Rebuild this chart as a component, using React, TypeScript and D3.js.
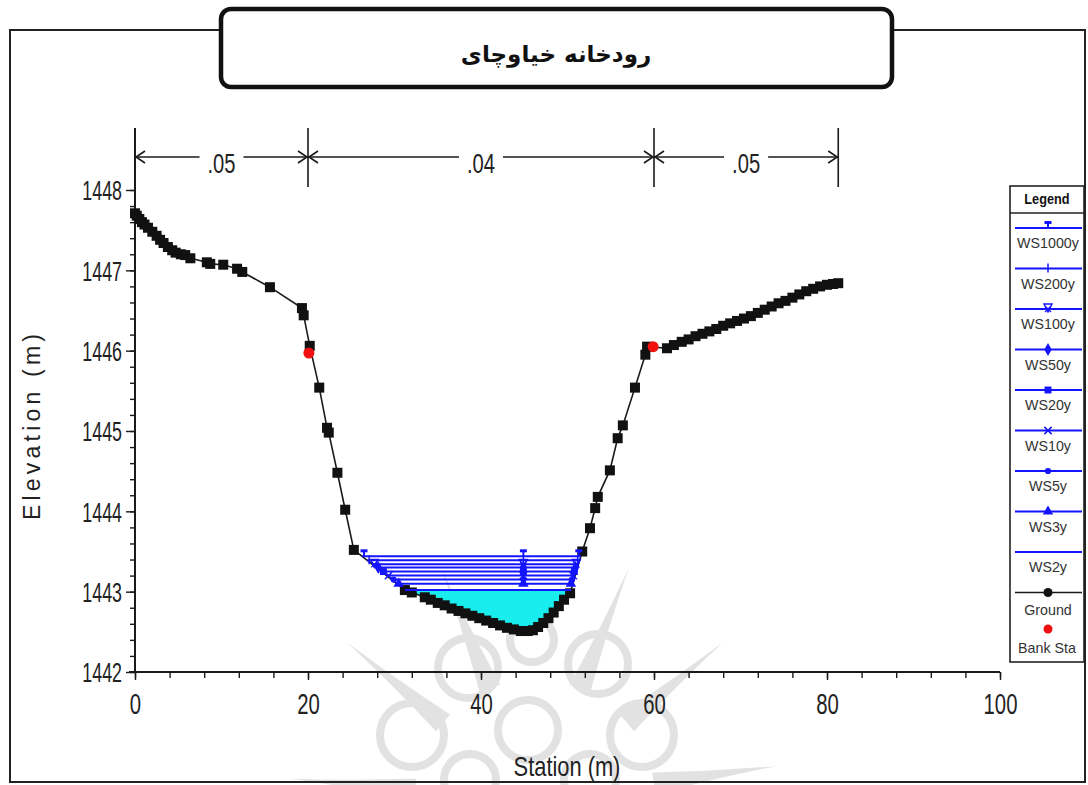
import React, { useRef, useEffect } from "react";
import * as d3 from "d3";

// ground section (station m, elevation m)
const groundStation = [
  0, 0.2, 0.5, 0.8, 1.1, 1.5, 2.0, 2.5, 2.9, 3.3, 3.8, 4.3, 4.7, 5.3, 5.8, 6.4, 8.3, 8.7,
  10.2, 11.8, 12.4, 15.6, 19.3, 19.5, 20.2, 21.3, 22.2, 22.4, 23.4, 24.3, 25.3, 31.2, 32.0,
  33.5, 34.2, 35.0, 35.8, 36.6, 37.4, 38.2, 39.0, 39.8, 40.6, 41.4, 42.2, 43.0, 43.8, 44.6,
  45.4, 46.0, 46.6, 47.2, 47.8, 48.4, 49.0, 49.6, 50.3, 51.7, 52.6, 53.2, 53.5, 54.9, 55.8,
  56.4, 57.8, 59.0, 59.2, 61.5, 62.3, 63.2, 64.0, 64.8, 65.6, 66.4, 67.2, 68.0, 68.8, 69.6,
  70.4, 71.2, 72.0, 72.8, 73.6, 74.4, 75.2, 76.0, 76.8, 77.6, 78.4, 79.2, 80.0, 80.7, 81.3,
];
const groundElevation = [
  1447.71, 1447.68, 1447.64, 1447.6, 1447.57, 1447.53, 1447.48, 1447.43, 1447.38, 1447.34,
  1447.29, 1447.25, 1447.22, 1447.2, 1447.19, 1447.15, 1447.1, 1447.08, 1447.07, 1447.02,
  1446.98, 1446.79, 1446.53, 1446.44, 1446.06, 1445.54, 1445.04, 1444.98, 1444.48, 1444.02,
  1443.52, 1443.02, 1442.99, 1442.93, 1442.9, 1442.86, 1442.83, 1442.79, 1442.76, 1442.73,
  1442.7, 1442.67, 1442.64, 1442.61, 1442.58, 1442.55, 1442.53, 1442.51, 1442.51, 1442.52,
  1442.56, 1442.61, 1442.67, 1442.74, 1442.82, 1442.9, 1442.98, 1443.5, 1443.79, 1444.04,
  1444.18, 1444.51, 1444.91, 1445.07, 1445.54, 1445.95, 1446.05, 1446.03, 1446.07, 1446.11,
  1446.14, 1446.18, 1446.21, 1446.24, 1446.27, 1446.31, 1446.34, 1446.37, 1446.4, 1446.43,
  1446.47, 1446.51, 1446.55, 1446.59, 1446.62, 1446.66, 1446.7, 1446.74, 1446.77, 1446.8,
  1446.82, 1446.83, 1446.84,
];

const bankStation = [20.1, 59.9];
const bankElevation = [1445.97, 1446.05];

const profileNames = ["WS1000y", "WS200y", "WS100y", "WS50y", "WS20y", "WS10y", "WS5y", "WS3y", "WS2y"];
const profileElevation = [1443.44, 1443.39, 1443.34, 1443.3, 1443.25, 1443.2, 1443.15, 1443.1, 1443.02];
const profileSymbols = ["tee", "plus", "triDownX", "diamond", "square", "cross", "circle", "triangle", "none"];
const wsSymbolStation = 44.9;

const nValueLabels = [".05", ".04", ".05"];
const nValueBreaks = [0, 20, 60, 81.3];

const xTicks = [0, 20, 40, 60, 80, 100];
const yTicks = [1442, 1443, 1444, 1445, 1446, 1447, 1448];

const titleText = "رودخانه خیاوچای";
const xTitle = "Station (m)";
const yTitle = "Elevation (m)";

const BLUE = "#1414ff";
const CYAN = "#19ecec";
const INK = "#1a1a1a";

const drawSymbol = (g, type, cx, cy, color) => {
  if (type === "tee") {
    g.append("rect").attr("x", cx - 3.5).attr("y", cy - 7).attr("width", 7).attr("height", 3).attr("fill", color);
    g.append("line").attr("x1", cx).attr("x2", cx).attr("y1", cy - 6).attr("y2", cy).attr("stroke", color).attr("stroke-width", 2);
  } else if (type === "plus") {
    g.append("line").attr("x1", cx).attr("x2", cx).attr("y1", cy - 5).attr("y2", cy + 4).attr("stroke", color).attr("stroke-width", 1.5);
  } else if (type === "triDownX") {
    g.append("path").attr("d", `M${cx - 4},${cy - 5}L${cx + 4},${cy - 5}L${cx},${cy + 3}Z`)
      .attr("fill", "none").attr("stroke", color).attr("stroke-width", 1.4);
    g.append("path").attr("d", `M${cx - 3},${cy - 3}L${cx + 3},${cy + 3}M${cx + 3},${cy - 3}L${cx - 3},${cy + 3}`)
      .attr("stroke", color).attr("stroke-width", 1.2);
  } else if (type === "cross") {
    g.append("path").attr("transform", `translate(${cx},${cy})`)
      .attr("d", d3.symbol(d3.symbolX, 36)()).attr("fill", "none").attr("stroke", color).attr("stroke-width", 1.5);
  } else if (type !== "none") {
    const sym = { diamond: d3.symbolDiamond, square: d3.symbolSquare, circle: d3.symbolCircle, triangle: d3.symbolTriangle }[type];
    const size = type === "circle" ? 30 : 48;
    g.append("path").attr("transform", `translate(${cx},${cy})`).attr("d", d3.symbol(sym, size)()).attr("fill", color);
  }
};

// squeeze text horizontally like the narrow plot font of the original
const squeeze = (sel, factor) =>
  sel.each(function () {
    const w = this.getComputedTextLength();
    d3.select(this).attr("textLength", w * factor).attr("lengthAdjust", "spacingAndGlyphs");
  });

const App = () => {
  const ref = useRef(null);

  useEffect(() => {
    const svg = d3.select(ref.current);
    svg.selectAll("*").remove();

    const width = 1088;
    const height = 785;
    const font = "'Liberation Sans', Arial, sans-serif";

    svg.attr("width", width).attr("height", height);
    svg.append("rect").attr("width", width).attr("height", height).attr("fill", "#fff");

    const x = d3.scaleLinear().domain([0, 100]).range([135, 1000]);
    const y = d3.scaleLinear().domain([1442, 1448]).range([672, 190]);

    // faint watermark rosette behind the plot
    const wmColor = "#e2e2e2";
    const wm = svg.append("g").attr("fill", "none").attr("stroke", wmColor).attr("stroke-width", 8);
    const wc = [535, 800];
    [-175, -140, -112, -68, -40, -8].forEach((a) => {
      const r = (a * Math.PI) / 180;
      const len = a === -112 || a === -68 ? 250 : 245;
      const tx = wc[0] + Math.cos(r) * len;
      const ty = wc[1] + Math.sin(r) * len;
      const nx = -Math.sin(r) * 11;
      const ny = Math.cos(r) * 11;
      const bx = wc[0] + Math.cos(r) * 120;
      const by = wc[1] + Math.sin(r) * 120;
      wm.append("path").attr("d", `M${bx + nx},${by + ny}Q${(bx + tx) / 2 + nx * 0.3},${(by + ty) / 2 + ny * 0.3} ${tx},${ty}Q${(bx + tx) / 2 - nx * 0.3},${(by + ty) / 2 - ny * 0.3} ${bx - nx},${by - ny}Z`)
        .attr("fill", wmColor).attr("stroke", "none");
    });
    [[468, 668, 30], [598, 664, 30], [412, 735, 32], [642, 735, 32], [532, 640, 22], [528, 730, 30], [470, 780, 26], [590, 780, 26]].forEach(([cx, cy, r]) => {
      wm.append("circle").attr("cx", cx).attr("cy", cy).attr("r", r);
    });

    // outer frame
    svg.append("rect").attr("x", 10).attr("y", 30).attr("width", 1075).attr("height", 752)
      .attr("fill", "none").attr("stroke", "#222").attr("stroke-width", 2);

    // title box
    svg.append("rect").attr("x", 221).attr("y", 9).attr("width", 671).attr("height", 78).attr("rx", 10)
      .attr("fill", "#fff").attr("stroke", "#111").attr("stroke-width", 4.5);
    svg.append("text").attr("x", 556).attr("y", 62).attr("text-anchor", "middle")
      .attr("font-family", "'DejaVu Sans', sans-serif").attr("font-weight", "bold").attr("font-size", 23)
      .attr("direction", "rtl").attr("fill", "#111").text(titleText);

    // n-value dimension line
    const dimY = 157;
    const dim = svg.append("g").attr("stroke", INK).attr("stroke-width", 1.6).attr("fill", "none");
    nValueBreaks.forEach((b) => {
      dim.append("line").attr("x1", x(b)).attr("x2", x(b)).attr("y1", 128).attr("y2", 187);
    });
    nValueLabels.forEach((lab, k) => {
      const x0 = x(nValueBreaks[k]);
      const x1 = x(nValueBreaks[k + 1]);
      const mid = (x0 + x1) / 2;
      dim.append("line").attr("x1", x0).attr("x2", mid - 22).attr("y1", dimY).attr("y2", dimY);
      dim.append("line").attr("x1", mid + 22).attr("x2", x1).attr("y1", dimY).attr("y2", dimY);
      dim.append("path").attr("d", `M${x0 + 10},${dimY - 6}L${x0 + 1},${dimY}L${x0 + 10},${dimY + 6}`);
      dim.append("path").attr("d", `M${x1 - 10},${dimY - 6}L${x1 - 1},${dimY}L${x1 - 10},${dimY + 6}`);
      svg.append("text").attr("x", mid).attr("y", dimY + 16).attr("text-anchor", "middle")
        .attr("font-family", font).attr("font-size", 28).attr("fill", "#222").text(lab)
        .call(squeeze, 0.72);
    });

    // y axis
    svg.append("line").attr("x1", x(0)).attr("x2", x(0)).attr("y1", 128).attr("y2", y(1442))
      .attr("stroke", INK).attr("stroke-width", 2);
    const yMinor = svg.append("g").attr("transform", `translate(${x(0)},0)`)
      .call(d3.axisLeft(y).tickValues(d3.range(1442, 1448.001, 0.2)).tickSize(5).tickFormat(() => ""));
    yMinor.select(".domain").remove();
    yMinor.selectAll("line").attr("stroke", INK).attr("stroke-width", 1.4);
    const yMajor = svg.append("g").attr("transform", `translate(${x(0)},0)`)
      .call(d3.axisLeft(y).tickValues(yTicks).tickSize(9).tickPadding(4).tickFormat(d3.format("d")));
    yMajor.select(".domain").remove();
    yMajor.selectAll("line").attr("stroke", INK).attr("stroke-width", 1.4);
    yMajor.selectAll("text").attr("font-family", font).attr("font-size", 27).attr("fill", "#222")
      .attr("dy", "0.36em").call(squeeze, 0.66);

    // x axis
    svg.append("line").attr("x1", x(0) - 6).attr("x2", x(100)).attr("y1", y(1442)).attr("y2", y(1442))
      .attr("stroke", INK).attr("stroke-width", 2);
    const xMinor = svg.append("g").attr("transform", `translate(0,${y(1442)})`)
      .call(d3.axisBottom(x).tickValues(d3.range(0, 100.001, 4)).tickSize(6).tickFormat(() => ""));
    xMinor.select(".domain").remove();
    xMinor.selectAll("line").attr("stroke", INK).attr("stroke-width", 1.4);
    const xMajor = svg.append("g").attr("transform", `translate(0,${y(1442)})`)
      .call(d3.axisBottom(x).tickValues(xTicks).tickSize(8).tickPadding(13).tickFormat(d3.format("d")));
    xMajor.select(".domain").remove();
    xMajor.selectAll("line").attr("stroke", INK).attr("stroke-width", 1.4);
    xMajor.selectAll("text").attr("font-family", font).attr("font-size", 29).attr("fill", "#222")
      .call(squeeze, 0.7);

    // axis titles
    svg.append("text").attr("transform", `translate(40,${427}) rotate(-90)`).attr("text-anchor", "middle")
      .attr("font-family", font).attr("font-size", 23).attr("fill", "#222")
      .attr("textLength", 186).attr("lengthAdjust", "spacing").text(yTitle);
    svg.append("text").attr("x", 567).attr("y", 776).attr("text-anchor", "middle")
      .attr("font-family", font).attr("font-size", 28).attr("fill", "#222").text(xTitle)
      .call(squeeze, 0.78);

    // water surfaces
    const ground = groundStation.map((s, i) => ({ s, e: groundElevation[i] }));
    const lowest = d3.minIndex(ground, (d) => d.e);
    const crossing = (level) => {
      let i = lowest;
      while (i > 0 && ground[i - 1].e < level) i--;
      const a = ground[i - 1];
      const b = ground[i];
      const left = a.s + ((level - a.e) / (b.e - a.e)) * (b.s - a.s);
      let j = lowest;
      while (j < ground.length - 1 && ground[j + 1].e < level) j++;
      const c = ground[j];
      const d = ground[j + 1];
      const right = c.s + ((level - c.e) / (d.e - c.e)) * (d.s - c.s);
      return { left, right, i, j };
    };

    const lowLevel = profileElevation[profileElevation.length - 1];
    const lowCross = crossing(lowLevel);
    const fillPts = [[lowCross.left, lowLevel], ...ground.slice(lowCross.i, lowCross.j + 1).map((p) => [p.s, p.e]), [lowCross.right, lowLevel]];
    svg.append("path")
      .attr("d", d3.line().x((p) => x(p[0])).y((p) => y(p[1]))(fillPts) + "Z")
      .attr("fill", CYAN);

    // ground line and points
    const groundLine = d3.line().x((d) => x(d.s)).y((d) => y(d.e));
    svg.append("path").attr("d", groundLine(ground)).attr("fill", "none").attr("stroke", INK).attr("stroke-width", 1.6);
    svg.append("g").selectAll("rect").data(ground).enter().append("rect")
      .attr("x", (d) => x(d.s) - 5).attr("y", (d) => y(d.e) - 5)
      .attr("width", 10).attr("height", 10).attr("fill", "#111");

    const ws = svg.append("g");
    profileElevation.forEach((lev, k) => {
      const c = crossing(lev);
      ws.append("line").attr("x1", x(c.left)).attr("x2", x(c.right)).attr("y1", y(lev)).attr("y2", y(lev))
        .attr("stroke", BLUE).attr("stroke-width", 2);
      drawSymbol(ws, profileSymbols[k], x(c.left) + 2, y(lev), BLUE);
      drawSymbol(ws, profileSymbols[k], x(c.right) - 2, y(lev), BLUE);
      drawSymbol(ws, profileSymbols[k], x(wsSymbolStation), y(lev), BLUE);
    });

    // bank stations
    svg.append("g").selectAll("circle").data(bankStation).enter().append("circle")
      .attr("cx", (d) => x(d)).attr("cy", (d, i) => y(bankElevation[i])).attr("r", 5.5).attr("fill", "#f01010");

    // legend
    const lg = svg.append("g");
    lg.append("rect").attr("x", 1010).attr("y", 186).attr("width", 74).attr("height", 476)
      .attr("fill", "#fff").attr("stroke", "#222").attr("stroke-width", 1.6);
    lg.append("line").attr("x1", 1010).attr("x2", 1084).attr("y1", 213).attr("y2", 213).attr("stroke", "#222").attr("stroke-width", 1.6);
    lg.append("text").attr("x", 1047).attr("y", 204).attr("text-anchor", "middle").attr("font-family", font)
      .attr("font-size", 15).attr("font-weight", "bold").attr("fill", "#111").text("Legend").call(squeeze, 0.85);
    const rowY = (i) => 228 + i * 40.5;
    profileNames.forEach((name, k) => {
      const ly = rowY(k);
      lg.append("line").attr("x1", 1015).attr("x2", 1082).attr("y1", ly).attr("y2", ly).attr("stroke", BLUE).attr("stroke-width", 2);
      drawSymbol(lg, profileSymbols[k], 1048, ly, BLUE);
      lg.append("text").attr("x", 1048).attr("y", ly + 20).attr("text-anchor", "middle").attr("font-family", font)
        .attr("font-size", 15).attr("fill", "#333").text(name).call(squeeze, 0.95);
    });
    const gy = rowY(9);
    lg.append("line").attr("x1", 1015).attr("x2", 1082).attr("y1", gy).attr("y2", gy).attr("stroke", INK).attr("stroke-width", 1.6);
    lg.append("circle").attr("cx", 1048).attr("cy", gy).attr("r", 4.5).attr("fill", "#111");
    lg.append("text").attr("x", 1048).attr("y", gy + 22).attr("text-anchor", "middle").attr("font-family", font)
      .attr("font-size", 15).attr("fill", "#333").text("Ground").call(squeeze, 0.95);
    lg.append("circle").attr("cx", 1048).attr("cy", 629).attr("r", 4.5).attr("fill", "#f01010");
    lg.append("text").attr("x", 1047).attr("y", 653).attr("text-anchor", "middle").attr("font-family", font)
      .attr("font-size", 15).attr("fill", "#333").text("Bank Sta").call(squeeze, 0.95);
  }, []);

  return <svg ref={ref} style={{ position: "absolute", left: 0, top: 0, display: "block" }}></svg>;
};

export default App;
